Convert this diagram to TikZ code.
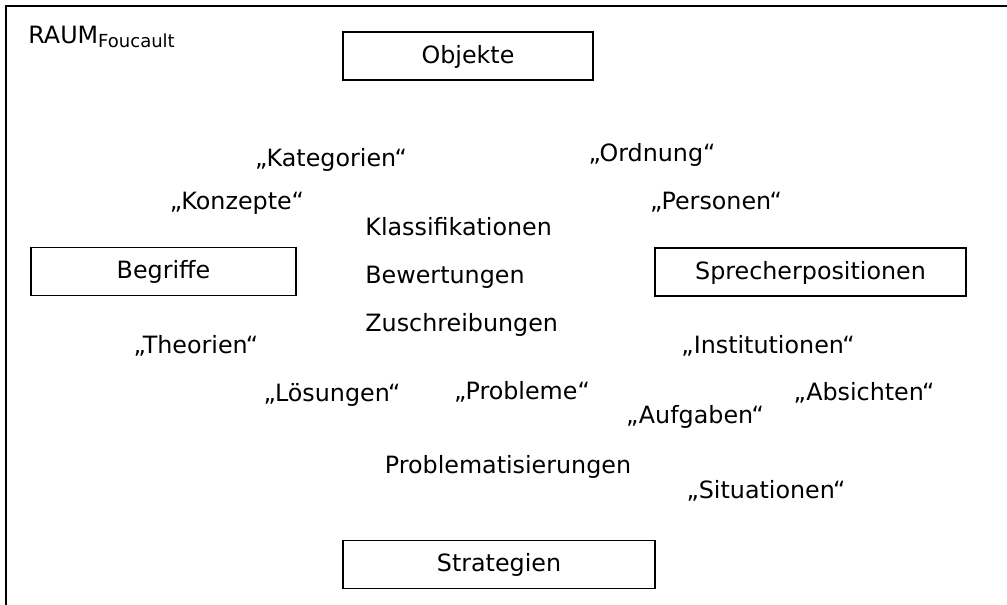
\documentclass[tikz,border=0pt]{standalone}
\usepackage{fontspec}
\setmainfont{DejaVu Sans}

\begin{document}
\begin{tikzpicture}[x=0.5pt, y=-0.5pt,
                    font=\fontsize{11.9}{14}\selectfont,
                    every node/.style={text height=8.5pt, text depth=2.5pt, inner sep=0pt},
                    kasten/.style={draw, line width=0.95pt, minimum height=24pt, text depth=1.5pt}]

  \useasboundingbox (0,0) rectangle (1007,605);
  \draw[line width=0.95pt] (6,605) |- (1007,6);

  \node[anchor=base west] at (28,43) (raum) {RAUM\raisebox{-0.35ex}{\fontsize{9}{10}\selectfont Foucault}};

  % die vier Kaesten
  \node[kasten, minimum width=125pt]   at (468,56)      (objekte)    {Objekte};
  \node[kasten, minimum width=132.5pt] at (163.5,271.5) (begriffe)   {Begriffe};
  \node[kasten, minimum width=155.5pt] at (810.5,272)   (sprecher)   {Sprecherpositionen};
  \node[kasten, minimum width=156pt]   at (499,564.5)   (strategien) {Strategien};

  % Mitte
  \node[anchor=west] at (365,229) (klassifikationen) {Klassifikationen};
  \node[anchor=west] at (365,277) (bewertungen)      {Bewertungen};
  \node[anchor=west] at (365,325) (zuschreibungen)   {Zuschreibungen};
  \node at (508,467) (problematisierungen) {Problematisierungen};

  \node at (331,160) (kategorien)   {„Kategorien“};
  \node at (652,155) (ordnung)      {„Ordnung“};
  \node at (237,203) (konzepte)     {„Konzepte“};
  \node at (716,203) (personen)     {„Personen“};
  \node at (196,347) (theorien)     {„Theorien“};
  \node at (768,347) (institutionen){„Institutionen“};
  \node at (332,395) (loesungen)    {„Lösungen“};
  \node at (522,393) (probleme)     {„Probleme“};
  \node at (864,394) (absichten)    {„Absichten“};
  \node at (695,417) (aufgaben)     {„Aufgaben“};
  \node at (766,492) (situationen)  {„Situationen“};

\end{tikzpicture}
\end{document}
